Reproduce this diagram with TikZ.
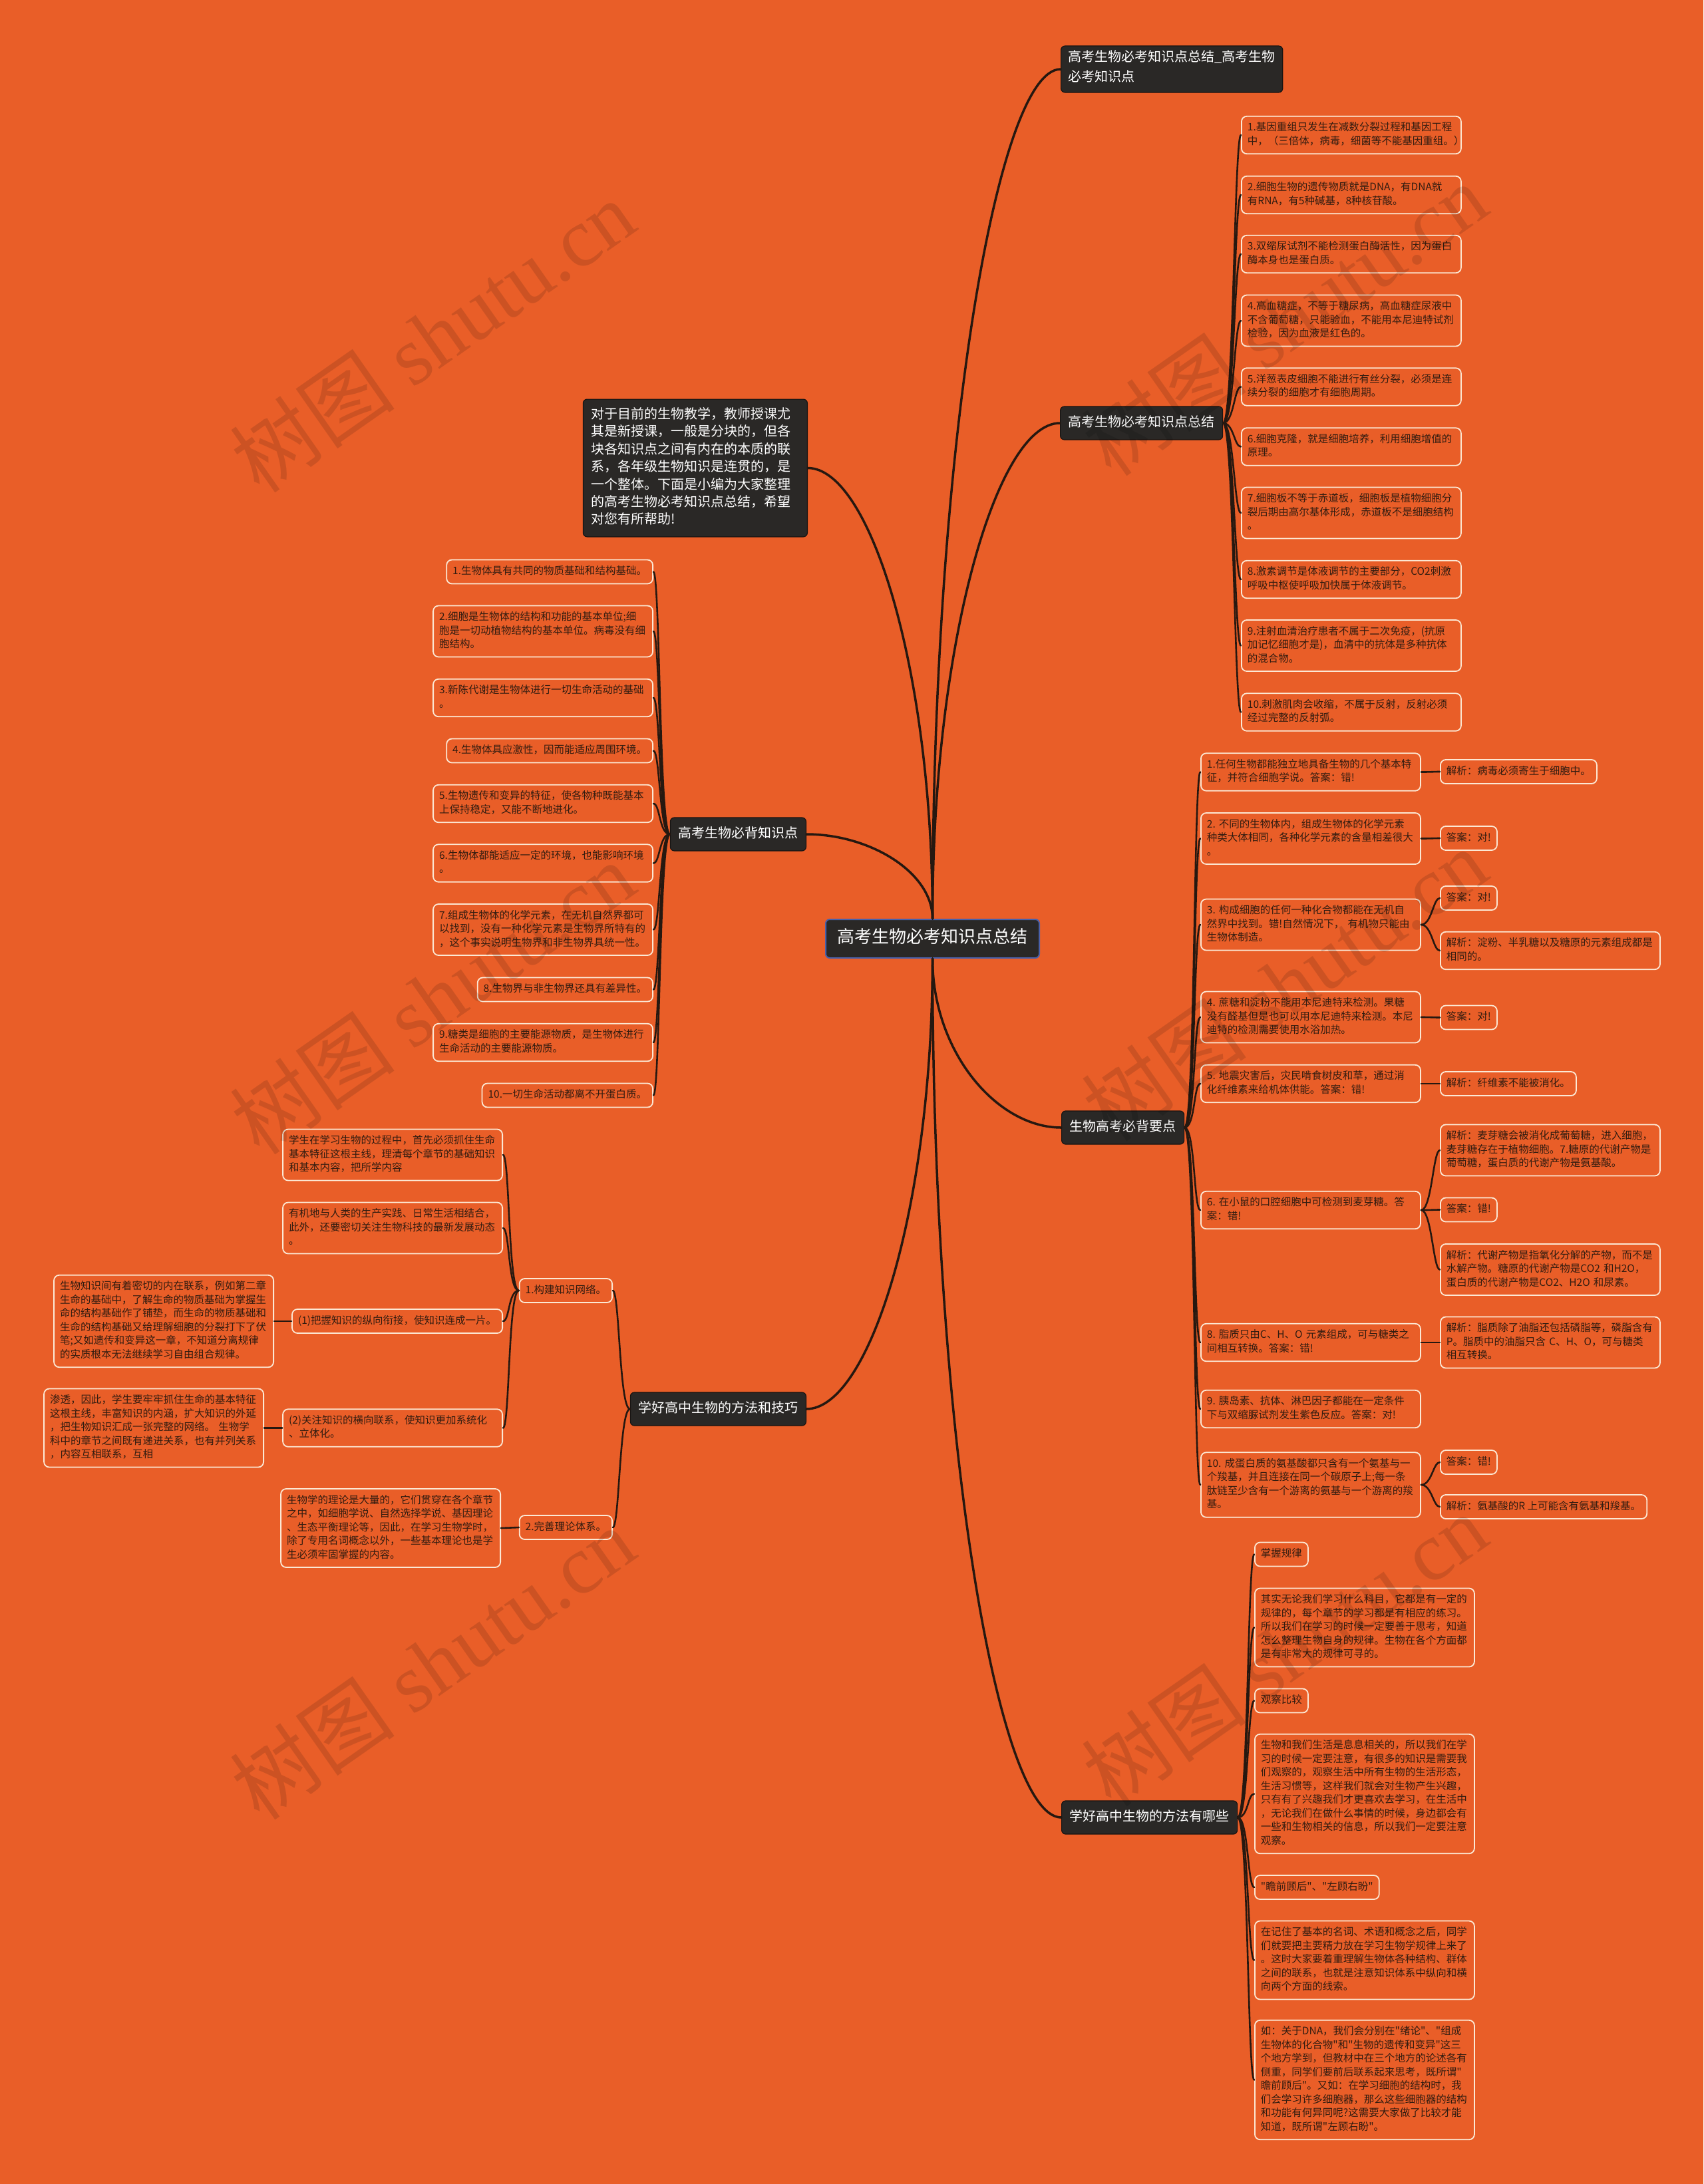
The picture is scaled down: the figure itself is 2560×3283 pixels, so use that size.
\documentclass[tikz,border=0pt]{standalone}
\usepackage{fontspec}
\setmainfont{Noto Sans CJK SC}[Ligatures=TeXOff]
\newfontfamily\wmfont{Liberation Serif}
\definecolor{bgc}{RGB}{233,94,40}
\definecolor{darkbox}{RGB}{42,40,38}
\definecolor{darkedge}{RGB}{24,20,18}
\definecolor{leafedge}{RGB}{252,232,212}
\definecolor{leaftext}{RGB}{50,28,16}
\definecolor{linec}{RGB}{38,24,16}
\definecolor{centeredge}{RGB}{72,96,170}
\tikzset{
  leaf/.style={draw=leafedge, line width=1.8pt, rounded corners=8pt, inner xsep=9pt, inner ysep=7.75pt,
    align=left, text=leaftext, font=\fontsize{15.5}{20.5}\selectfont,
    execute at begin node=\strut, execute at end node=\strut},
  wleaf/.style={leaf, text width=312pt},
  dark/.style={fill=darkbox, draw=darkedge, line width=1.2pt, rounded corners=6pt, text=white,
    font=\fontsize{20}{26}\selectfont, inner xsep=12pt, inner ysep=12pt, align=left,
    execute at begin node=\strut, execute at end node=\strut},
  topbox/.style={dark, font=\fontsize{20}{30}\selectfont, inner xsep=11pt, inner ysep=7pt},
  centralbox/.style={dark, draw=centeredge, line width=2pt, font=\fontsize{26}{32}\selectfont, inner xsep=17.5pt, inner ysep=13pt},
  introbox/.style={dark, font=\fontsize{20}{26.4}\selectfont, text width=313pt, inner xsep=12pt, inner ysep=11pt},
  mconn/.style={draw=linec, line width=3.5pt, line cap=round},
  lconn/.style={draw=linec, line width=2.6pt, line cap=round},
  rc/.style={out=0, in=180, out distance=16pt, in distance=10pt},
  lc/.style={out=180, in=0, out distance=16pt, in distance=10pt},
  wm/.style={rotate=35, text=black, text opacity=0.12, font=\fontsize{125}{125}\selectfont, inner sep=0pt}
}
\begin{document}
\begin{tikzpicture}[x=1pt,y=-1pt]
\useasboundingbox (0,0) rectangle (2560,3283);
\fill[bgc] (0,0) rectangle (2560,3283);

% main nodes
\node[centralbox] (c) at (1401.5,1411) {高考生物必考知识点总结};
\node[topbox, anchor=west] (b1) at (1594,104) {高考生物必考知识点总结\_高考生物\\必考知识点};
\node[dark, anchor=west] (b2) at (1593,636) {高考生物必考知识点总结};
\node[dark, anchor=west] (b3) at (1595,1695) {生物高考必背要点};
\node[dark, anchor=west] (b4) at (1595,2732) {学好高中生物的方法有哪些};
\node[introbox, anchor=east] (intro) at (1214,703.5) {对于目前的生物教学，教师授课尤\\其是新授课，一般是分块的，但各\\块各知识点之间有内在的本质的联\\系，各年级生物知识是连贯的，是\\一个整体。下面是小编为大家整理\\的高考生物必考知识点总结，希望\\对您有所帮助!};
\node[dark, anchor=east] (bl1) at (1212,1254) {高考生物必背知识点};
\node[dark, anchor=east] (bl2) at (1212,2118) {学好高中生物的方法和技巧};

% central connectors
\draw[mconn] (c.north) .. controls +(0,-703) and +(-96,0) .. (b1.west);
\draw[mconn] (c.north) .. controls +(0,-410) and +(-96,0) .. (b2.west);
\draw[mconn] (c.south) .. controls +(0,140) and +(-97,0) .. (b3.west);
\draw[mconn] (c.south) .. controls +(0,711) and +(-97,0) .. (b4.west);
\draw[mconn] (c.north) .. controls +(0,-373) and +(94,0) .. (intro.east);
\draw[mconn] (c.north) .. controls +(0,-70) and +(95,0) .. (bl1.east);
\draw[mconn] (c.south) .. controls +(0,373) and +(95,0) .. (bl2.east);

% branch b2 leaves
\node[wleaf, anchor=west] (r1) at (1865,203) {1.基因重组只发生在减数分裂过程和基因工程\\中，（三倍体，病毒，细菌等不能基因重组。）};
\node[wleaf, anchor=west] (r2) at (1865,293) {2.细胞生物的遗传物质就是DNA，有DNA就\\有RNA，有5种碱基，8种核苷酸。};
\node[wleaf, anchor=west] (r3) at (1865,382) {3.双缩尿试剂不能检测蛋白酶活性，因为蛋白\\酶本身也是蛋白质。};
\node[wleaf, anchor=west] (r4) at (1865,482) {4.高血糖症，不等于糖尿病，高血糖症尿液中\\不含葡萄糖，只能验血，不能用本尼迪特试剂\\检验，因为血液是红色的。};
\node[wleaf, anchor=west] (r5) at (1865,581.5) {5.洋葱表皮细胞不能进行有丝分裂，必须是连\\续分裂的细胞才有细胞周期。};
\node[wleaf, anchor=west] (r6) at (1865,671.5) {6.细胞克隆，就是细胞培养，利用细胞增值的\\原理。};
\node[wleaf, anchor=west] (r7) at (1865,771) {7.细胞板不等于赤道板，细胞板是植物细胞分\\裂后期由高尔基体形成，赤道板不是细胞结构\\。};
\node[wleaf, anchor=west] (r8) at (1865,871) {8.激素调节是体液调节的主要部分，CO2刺激\\呼吸中枢使呼吸加快属于体液调节。};
\node[wleaf, anchor=west] (r9) at (1865,970.5) {9.注射血清治疗患者不属于二次免疫，(抗原\\加记忆细胞才是)，血清中的抗体是多种抗体\\的混合物。};
\node[wleaf, anchor=west] (r10) at (1865,1070.5) {10.刺激肌肉会收缩，不属于反射，反射必须\\经过完整的反射弧。};
\foreach \i in {1,...,10} \draw[lconn] (b2.east) to[rc] (r\i.west);

% branch bl1 leaves
\node[leaf, anchor=east] (l1) at (982,859.5) {1.生物体具有共同的物质基础和结构基础。};
\node[wleaf, anchor=east] (l2) at (982,949) {2.细胞是生物体的结构和功能的基本单位;细\\胞是一切动植物结构的基本单位。病毒没有细\\胞结构。};
\node[wleaf, anchor=east] (l3) at (982,1049) {3.新陈代谢是生物体进行一切生命活动的基础\\。};
\node[leaf, anchor=east] (l4) at (982,1128.5) {4.生物体具应激性，因而能适应周围环境。};
\node[wleaf, anchor=east] (l5) at (982,1208) {5.生物遗传和变异的特征，使各物种既能基本\\上保持稳定，又能不断地进化。};
\node[wleaf, anchor=east] (l6) at (982,1297.5) {6.生物体都能适应一定的环境，也能影响环境\\。};
\node[wleaf, anchor=east] (l7) at (982,1397.5) {7.组成生物体的化学元素，在无机自然界都可\\以找到，没有一种化学元素是生物界所特有的\\，这个事实说明生物界和非生物界具统一性。};
\node[leaf, anchor=east] (l8) at (982,1487.5) {8.生物界与非生物界还具有差异性。};
\node[wleaf, anchor=east] (l9) at (982,1567) {9.糖类是细胞的主要能源物质，是生物体进行\\生命活动的主要能源物质。};
\node[leaf, anchor=east] (l10) at (982,1646.5) {10.一切生命活动都离不开蛋白质。};
\foreach \i in {1,...,10} \draw[lconn] (bl1.west) to[lc] (l\i.east);

% branch b3 questions
\node[wleaf, anchor=west] (q1) at (1804,1160.5) {1.任何生物都能独立地具备生物的几个基本特\\征，并符合细胞学说。答案：错!};
\node[wleaf, anchor=west] (q2) at (1804,1260.5) {2.~不同的生物体内，组成生物体的化学元素\\种类大体相同，各种化学元素的含量相差很大\\。};
\node[wleaf, anchor=west] (q3) at (1804,1390) {3.~构成细胞的任何一种化合物都能在无机自\\然界中找到。错!自然情况下，~有机物只能由\\生物体制造。};
\node[wleaf, anchor=west] (q4) at (1804,1529) {4.~蔗糖和淀粉不能用本尼迪特来检测。果糖\\没有醛基但是也可以用本尼迪特来检测。本尼\\迪特的检测需要使用水浴加热。};
\node[wleaf, anchor=west] (q5) at (1804,1629) {5.~地震灾害后，灾民啃食树皮和草，通过消\\化纤维素来给机体供能。答案：错!};
\node[wleaf, anchor=west] (q6) at (1804,1819) {6.~在小鼠的口腔细胞中可检测到麦芽糖。答\\案：错!};
\node[wleaf, anchor=west] (q8) at (1804,2018) {8.~脂质只由C、H、O~元素组成，可与糖类之\\间相互转换。答案：错!};
\node[wleaf, anchor=west] (q9) at (1804,2118) {9.~胰岛素、抗体、淋巴因子都能在一定条件\\下与双缩脲试剂发生紫色反应。答案：对!};
\node[wleaf, anchor=west] (q10) at (1804,2232) {10.~成蛋白质的氨基酸都只含有一个氨基与一\\个羧基，并且连接在同一个碳原子上;每一条\\肽链至少含有一个游离的氨基与一个游离的羧\\基。};
\foreach \i in {1,2,3,4,5,6,8,9,10} \draw[lconn] (b3.east) to[rc] (q\i.west);

% answers
\node[leaf, anchor=west] (a1) at (2164,1160) {解析：病毒必须寄生于细胞中。};
\node[leaf, anchor=west] (a2) at (2164,1260) {答案：对!};
\node[leaf, anchor=west] (a3a) at (2164,1350) {答案：对!};
\node[wleaf, anchor=west] (a3b) at (2164,1429) {解析：淀粉、半乳糖以及糖原的元素组成都是\\相同的。};
\node[leaf, anchor=west] (a4) at (2164,1529.5) {答案：对!};
\node[leaf, anchor=west] (a5) at (2164,1629) {解析：纤维素不能被消化。};
\node[wleaf, anchor=west] (a6a) at (2164,1729) {解析：麦芽糖会被消化成葡萄糖，进入细胞，\\麦芽糖存在于植物细胞。7.糖原的代谢产物是\\葡萄糖，蛋白质的代谢产物是氨基酸。};
\node[leaf, anchor=west] (a6b) at (2164,1818.5) {答案：错!};
\node[wleaf, anchor=west] (a6c) at (2164,1908.5) {解析：代谢产物是指氧化分解的产物，而不是\\水解产物。糖原的代谢产物是CO2~和H2O，\\蛋白质的代谢产物是CO2、H2O~和尿素。};
\node[wleaf, anchor=west] (a8) at (2164,2018) {解析：脂质除了油脂还包括磷脂等，磷脂含有\\P。脂质中的油脂只含~C、H、O，可与糖类\\相互转换。};
\node[leaf, anchor=west] (a10a) at (2164,2198) {答案：错!};
\node[leaf, anchor=west] (a10b) at (2164,2265) {解析：氨基酸的R 上可能含有氨基和羧基。};
\draw[lconn] (q1.east) to[rc] (a1.west);
\draw[lconn] (q2.east) to[rc] (a2.west);
\draw[lconn] (q3.east) to[rc] (a3a.west);
\draw[lconn] (q3.east) to[rc] (a3b.west);
\draw[lconn] (q4.east) to[rc] (a4.west);
\draw[lconn] (q5.east) to[rc] (a5.west);
\draw[lconn] (q6.east) to[rc] (a6a.west);
\draw[lconn] (q6.east) to[rc] (a6b.west);
\draw[lconn] (q6.east) to[rc] (a6c.west);
\draw[lconn] (q8.east) to[rc] (a8.west);
\draw[lconn] (q10.east) to[rc] (a10a.west);
\draw[lconn] (q10.east) to[rc] (a10b.west);

% branch b4 leaves
\node[leaf, anchor=west] (m1) at (1885,2336.5) {掌握规律};
\node[wleaf, anchor=west] (m2) at (1885,2446.5) {其实无论我们学习什么科目，它都是有一定的\\规律的，每个章节的学习都是有相应的练习。\\所以我们在学习的时候一定要善于思考，知道\\怎么整理生物自身的规律。生物在各个方面都\\是有非常大的规律可寻的。};
\node[leaf, anchor=west] (m3) at (1885,2556.5) {观察比较};
\node[wleaf, anchor=west] (m4) at (1885,2696.5) {生物和我们生活是息息相关的，所以我们在学\\习的时候一定要注意，有很多的知识是需要我\\们观察的，观察生活中所有生物的生活形态，\\生活习惯等，这样我们就会对生物产生兴趣，\\只有有了兴趣我们才更喜欢去学习，在生活中\\，无论我们在做什么事情的时候，身边都会有\\一些和生物相关的信息，所以我们一定要注意\\观察。};
\node[leaf, anchor=west] (m5) at (1885,2837) {"瞻前顾后"、"左顾右盼"};
\node[wleaf, anchor=west] (m6) at (1885,2946.5) {在记住了基本的名词、术语和概念之后，同学\\们就要把主要精力放在学习生物学规律上来了\\。这时大家要着重理解生物体各种结构、群体\\之间的联系，也就是注意知识体系中纵向和横\\向两个方面的线索。};
\node[wleaf, anchor=west] (m7) at (1885,3126.5) {如：关于DNA，我们会分别在"绪论"、"组成\\生物体的化合物"和"生物的遗传和变异"这三\\个地方学到，但教材中在三个地方的论述各有\\侧重，同学们要前后联系起来思考，既所谓"\\瞻前顾后"。又如：在学习细胞的结构时，我\\们会学习许多细胞器，那么这些细胞器的结构\\和功能有何异同呢?这需要大家做了比较才能\\知道，既所谓"左顾右盼"。};
\foreach \i in {1,...,7} \draw[lconn] (b4.east) to[rc] (m\i.west);

% branch bl2
\node[leaf, anchor=east] (k1) at (921,1940) {1.构建知识网络。};
\node[leaf, anchor=east] (k2) at (921,2296) {2.完善理论体系。};
\draw[lconn] (bl2.west) to[lc] (k1.east);
\draw[lconn] (bl2.west) to[lc] (k2.east);
\node[wleaf, anchor=east] (ka) at (756,1736) {学生在学习生物的过程中，首先必须抓住生命\\基本特征这根主线，理清每个章节的基础知识\\和基本内容，把所学内容};
\node[wleaf, anchor=east] (kb) at (756,1846) {有机地与人类的生产实践、日常生活相结合，\\此外，还要密切关注生物科技的最新发展动态\\。};
\node[leaf, anchor=east] (kc) at (756,1986) {(1)把握知识的纵向衔接，使知识连成一片。};
\node[wleaf, anchor=east] (kd) at (756,2146.5) {(2)关注知识的横向联系，使知识更加系统化\\、立体化。};
\foreach \n in {ka,kb,kc,kd} \draw[lconn] (k1.west) to[lc] (\n.east);
\node[wleaf, anchor=east] (kc1) at (412,1986) {生物知识间有着密切的内在联系，例如第二章\\生命的基础中，了解生命的物质基础为掌握生\\命的结构基础作了铺垫，而生命的物质基础和\\生命的结构基础又给理解细胞的分裂打下了伏\\笔;又如遗传和变异这一章，不知道分离规律\\的实质根本无法继续学习自由组合规律。};
\node[wleaf, anchor=east] (kd1) at (397,2146.5) {渗透，因此，学生要牢牢抓住生命的基本特征\\这根主线，丰富知识的内涵，扩大知识的外延\\，把生物知识汇成一张完整的网络。~生物学\\科中的章节之间既有递进关系，也有并列关系\\，内容互相联系，互相};
\node[wleaf, anchor=east] (ke) at (753,2297) {生物学的理论是大量的，它们贯穿在各个章节\\之中，如细胞学说、自然选择学说、基因理论\\、生态平衡理论等，因此，在学习生物学时，\\除了专用名词概念以外，一些基本理论也是学\\生必须牢固掌握的内容。};
\draw[lconn] (kc.west) -- (kc1.east);
\draw[lconn] (kd.west) -- (kd1.east);
\draw[lconn] (k2.west) -- (ke.east);

% watermarks
\node[wm] (wm1) at (650,505) {树图 {\wmfont shutu.cn}};
\node[wm] (wm2) at (650,1500) {树图 {\wmfont shutu.cn}};
\node[wm] (wm3) at (650,2500) {树图 {\wmfont shutu.cn}};
\node[wm] (wm4) at (1930,480) {树图 {\wmfont shutu.cn}};
\node[wm] (wm5) at (1930,1480) {树图 {\wmfont shutu.cn}};
\node[wm] (wm6) at (1930,2480) {树图 {\wmfont shutu.cn}};
\end{tikzpicture}
\end{document}
